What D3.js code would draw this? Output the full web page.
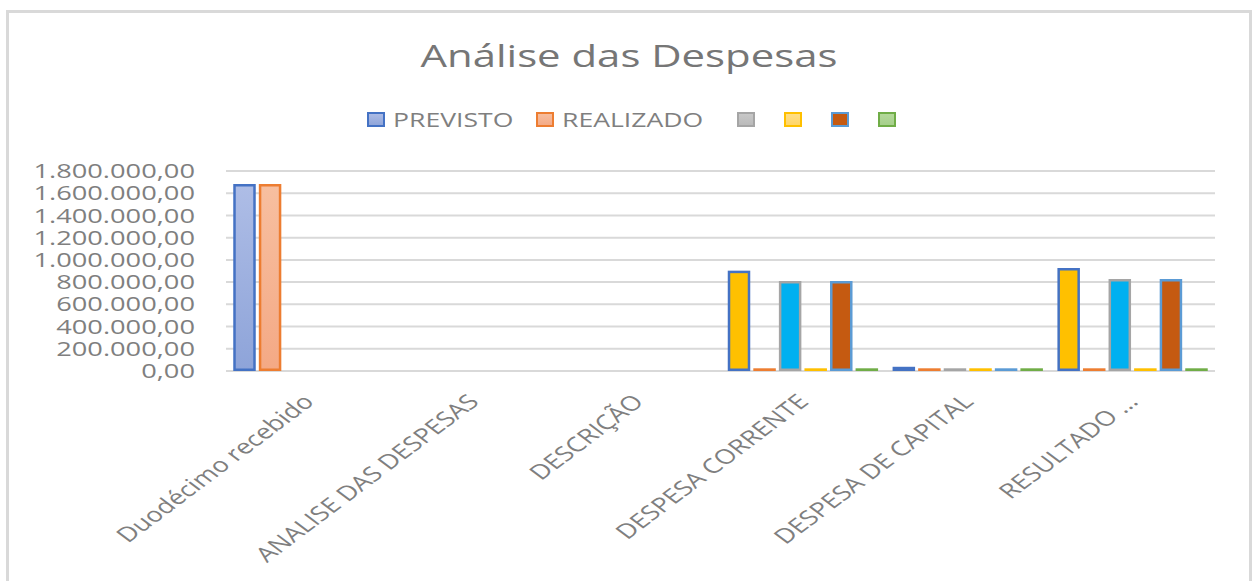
<!DOCTYPE html>
<html>
<head>
<meta charset="utf-8">
<script src="https://cdn.jsdelivr.net/npm/d3@7"></script>
<style>
  body { margin: 0; background: #fff; }
  text { font-family: "Open Sans", "Noto Sans", sans-serif; fill: #7f7f7f; }
</style>
</head>
<body>
<script>
// categories and series
const categories = ["Duodécimo recebido", "ANALISE DAS DESPESAS", "DESCRIÇÃO",
                    "DESPESA CORRENTE", "DESPESA DE CAPITAL", "RESULTADO …"];
const seriesNames = ["PREVISTO", "REALIZADO", "", "", "", ""];

const previsto  = [1683000, null, null, 903000, 38000, 927000];
const realizado = [1683000, null, null, 3000, 10000, 3000];
const serie3    = [null, null, null, 810000, 22000, 828000];
const serie4    = [null, null, null, 3000, 10000, 3000];
const serie5    = [null, null, null, 810000, 22000, 828000];
const serie6    = [null, null, null, 3000, 10000, 3000];

const yTicks = [0, 200000, 400000, 600000, 800000, 1000000, 1200000, 1400000, 1600000, 1800000];

const allSeries = [previsto, realizado, serie3, serie4, serie5, serie6];

// styles
const strokes = ["#4472C4", "#ED7D31", "#A5A5A5", "#FFC000", "#5B9BD5", "#70AD47"];
const fillTop = ["#aebde6", "#f7bfa0", "#c9c9c9", "#ffdf8a", "#C55A11", "#b5d99c"];
const fillBot = ["#8ea4d9", "#f4a985", "#b9b9b9", "#ffd566", "#C55A11", "#a5cf8a"];
// some points have their own fill
const pointFill = { "0-3": "#FFC000", "0-5": "#FFC000", "0-4": "#4472C4",
                    "2-3": "#00B0F0", "2-5": "#00B0F0", "2-4": "#00B0F0",
                    "4-3": "#C55A11", "4-5": "#C55A11" };

const width = 1256, height = 581;
const plotL = 226, plotR = 1215, plotT = 171, plotB = 371;
const SX = 1.33;   // the picture is stretched sideways

function stretch(ax, ay) {
    return "translate(" + ax + "," + ay + ") scale(" + SX + ",1) translate(" + (-ax) + "," + (-ay) + ")";
}

const svg = d3.select("body").append("svg")
    .attr("width", width)
    .attr("height", height);

const defs = svg.append("defs");
fillTop.forEach(function(c, i) {
    const g = defs.append("linearGradient")
        .attr("id", "g" + i)
        .attr("x1", 0).attr("y1", 0).attr("x2", 0).attr("y2", 1);
    g.append("stop").attr("offset", "0%").attr("stop-color", c);
    g.append("stop").attr("offset", "100%").attr("stop-color", fillBot[i]);
});

// chart frame
svg.append("rect")
    .attr("x", 7.5).attr("y", 11.5)
    .attr("width", 1243).attr("height", 600)
    .attr("fill", "none")
    .attr("stroke", "#d9d9d9")
    .attr("stroke-width", 3);

svg.append("text")
    .attr("x", 629).attr("y", 67)
    .attr("text-anchor", "middle")
    .attr("transform", stretch(629, 67))
    .style("font-size", "31.5px")
    .style("fill", "#767676")
    .text("Análise das Despesas");

const x = d3.scaleBand()
    .domain(categories)
    .range([plotL, plotR])
    .paddingInner(0.088)
    .paddingOuter(0.044);

const xs = d3.scaleBand()
    .domain(d3.range(allSeries.length))
    .range([0, x.bandwidth()])
    .paddingInner(0.12);

const y = d3.scaleLinear()
    .domain([0, 1800000])
    .range([plotB, plotT]);

const locale = d3.formatLocale({ decimal: ",", thousands: ".", grouping: [3], currency: ["", ""] });
const fmt = locale.format(",.2f");

// gridlines
svg.append("g")
    .selectAll("line")
    .data(yTicks)
    .join("line")
    .attr("x1", plotL).attr("x2", plotR)
    .attr("y1", d => y(d)).attr("y2", d => y(d))
    .attr("stroke", "#d9d9d9")
    .attr("stroke-width", 2);

const yPad = 31;
const yAxis = svg.append("g")
    .attr("transform", "translate(" + plotL + ",0)")
    .call(d3.axisLeft(y).tickValues(yTicks).tickFormat(fmt).tickSize(0).tickPadding(yPad));
yAxis.select(".domain").remove();
yAxis.selectAll("text")
    .attr("transform", stretch(-yPad, 0))
    .style("font-size", "20.5px")
    .style("fill", "#7f7f7f")
    .style("font-family", "'Open Sans', sans-serif");

// bars
const barData = [];
allSeries.forEach(function(vals, si) {
    vals.forEach(function(v, ci) {
        if (v != null) barData.push({ s: si, c: ci, v: v });
    });
});

function barH(d) { return Math.max(0.2, plotB - y(d.v) - 2.5); }

svg.append("g")
    .selectAll("rect")
    .data(barData)
    .join("rect")
    .attr("x", d => x(categories[d.c]) + xs(d.s) + 1.25)
    .attr("width", xs.bandwidth() - 2.5)
    .attr("y", d => plotB - 1.25 - barH(d))
    .attr("height", barH)
    .attr("fill", d => pointFill[d.s + "-" + d.c] || "url(#g" + d.s + ")")
    .attr("stroke", d => strokes[d.s])
    .attr("stroke-width", 2.5);

// x axis labels
const xAxis = svg.append("g")
    .attr("transform", "translate(0," + plotB + ")")
    .call(d3.axisBottom(x).tickSize(0).tickPadding(0));
xAxis.select(".domain").remove();
xAxis.selectAll("text")
    .attr("text-anchor", "end")
    .attr("dy", 0)
    .attr("y", 0)
    .attr("transform", "translate(7,32) scale(" + SX + ",1) rotate(-45)")
    .style("font-size", "20.5px")
    .style("fill", "#7f7f7f")
    .style("font-family", "'Open Sans', sans-serif");

// legend
const legendX = [367, 536, 737, 784, 831, 878];
const legend = svg.append("g");
seriesNames.forEach(function(name, i) {
    const g = legend.append("g").attr("transform", "translate(" + legendX[i] + ",112)");
    g.append("rect")
        .attr("x", 1).attr("y", 1)
        .attr("width", 16).attr("height", 13)
        .attr("fill", "url(#g" + i + ")")
        .attr("stroke", strokes[i])
        .attr("stroke-width", 2);
    g.append("text")
        .attr("x", 26).attr("y", 15)
        .attr("transform", stretch(26, 15))
        .style("font-size", "20px")
        .text(name);
});
</script>
</body>
</html>
